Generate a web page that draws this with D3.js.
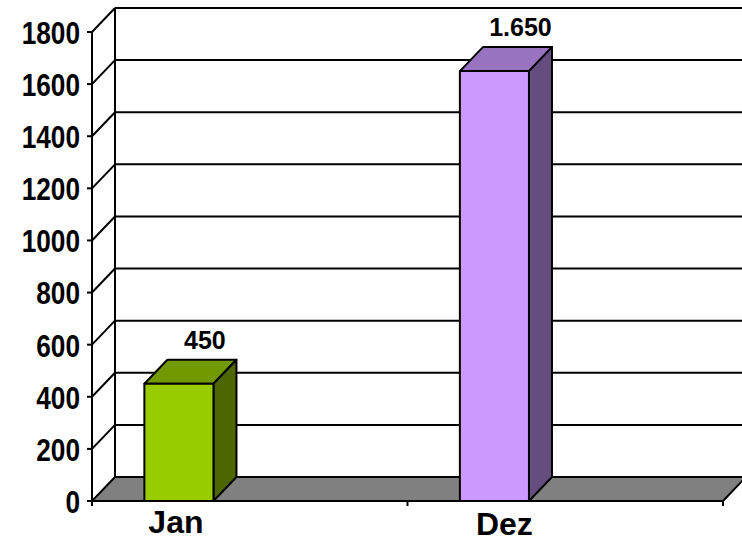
<!DOCTYPE html>
<html>
<head>
<meta charset="utf-8">
<script src="https://cdn.jsdelivr.net/npm/d3@7"></script>
<style>
  body { margin: 0; background: #fff; }
  svg { display: block; }
  text { font-family: "Liberation Sans", Arial, sans-serif; font-weight: bold; fill: #000; }
</style>
</head>
<body>
<div id="chart"></div>
<script>
// data
const categories = ['Jan', 'Dez'];
const values = [450, 1650];
const yTicks = [0, 200, 400, 600, 800, 1000, 1200, 1400, 1600, 1800];
const frontColors = ['#99cc00', '#cc99ff'];

const width = 742;
const height = 542;
const depth = { dx: 23, dy: 24 };

const chart = d3.select('#chart').append('svg')
  .attr('width', width)
  .attr('height', height);

const x = d3.scaleBand().domain(categories).range([92, 723]).padding(0);
const y = d3.scaleLinear().domain([0, 1800]).range([501, 32]);
const bw = x.bandwidth();
const barOffset = bw * 0.166;
const barWidth = bw * 0.219;

const de = d3.formatLocale({ decimal: ',', thousands: '.', grouping: [3], currency: ['', '€'] });
const fmt = de.format(',d');

// #region back wall grid
const grid = chart.append('g').attr('stroke', '#000').attr('stroke-width', 2).attr('fill', 'none');
const x0 = x.range()[0];
const x1 = x.range()[1];

grid.selectAll('line.h')
  .data(yTicks.filter(d => d > 0))
  .enter()
  .append('line')
  .attr('x1', x0 + depth.dx)
  .attr('x2', x1 + depth.dx + 5)
  .attr('y1', d => y(d) - depth.dy)
  .attr('y2', d => y(d) - depth.dy);

grid.selectAll('line.d')
  .data(yTicks.filter(d => d > 0))
  .enter()
  .append('line')
  .attr('x1', x0)
  .attr('x2', x0 + depth.dx)
  .attr('y1', d => y(d))
  .attr('y2', d => y(d) - depth.dy);

// back wall left edge
grid.append('line')
  .attr('x1', x0 + depth.dx).attr('x2', x0 + depth.dx)
  .attr('y1', y(1800) - depth.dy).attr('y2', y(0) - depth.dy);
// #endregion

// #region floor
const floorPts = [
  [x0, y(0)], [x1, y(0)],
  [x1 + depth.dx, y(0) - depth.dy], [x0 + depth.dx, y(0) - depth.dy],
];
chart.append('polygon')
  .attr('points', floorPts.map(p => p.join(',')).join(' '))
  .attr('fill', '#808080')
  .attr('stroke', '#000')
  .attr('stroke-width', 2)
  .attr('stroke-linejoin', 'round');
// #endregion

// #region front axis
const axis = chart.append('g').attr('stroke', '#000').attr('stroke-width', 2);
axis.append('line')
  .attr('x1', x0).attr('x2', x0)
  .attr('y1', y(1800)).attr('y2', y(0) + 5);
axis.selectAll('line.t')
  .data(yTicks)
  .enter()
  .append('line')
  .attr('x1', x0 - 5).attr('x2', x0)
  .attr('y1', d => y(d)).attr('y2', d => y(d));
axis.selectAll('line.c')
  .data([...categories.map(c => x(c)), x1])
  .enter()
  .append('line')
  .attr('x1', d => d).attr('x2', d => d)
  .attr('y1', y(0)).attr('y2', y(0) + 5);

chart.append('g')
  .selectAll('text')
  .data(yTicks)
  .enter()
  .append('text')
  .text(d => d)
  .attr('text-anchor', 'end')
  .attr('dominant-baseline', 'central')
  .attr('transform', d => `translate(80, ${y(d) + 1}) scale(0.82, 1)`)
  .style('font-size', '32px');
// #endregion

// #region bars
const shade = (c, k) => {
  const col = d3.rgb(c);
  return d3.rgb(col.r * k, col.g * k, col.b * k);
};

const bars = chart.append('g')
  .attr('stroke', '#000')
  .attr('stroke-width', 2)
  .attr('stroke-linejoin', 'round');

categories.forEach((c, i) => {
  const bx = x(c) + barOffset;
  const bx2 = bx + barWidth;
  const top = y(values[i]);
  const base = y(0);
  const g = bars.append('g');
  // top face
  g.append('polygon')
    .attr('points', [[bx, top], [bx + depth.dx, top - depth.dy], [bx2 + depth.dx, top - depth.dy], [bx2, top]].map(p => p.join(',')).join(' '))
    .attr('fill', shade(frontColors[i], 0.75));
  // side face
  g.append('polygon')
    .attr('points', [[bx2, top], [bx2 + depth.dx, top - depth.dy], [bx2 + depth.dx, base - depth.dy], [bx2, base]].map(p => p.join(',')).join(' '))
    .attr('fill', shade(frontColors[i], 0.5));
  // front face
  g.append('rect')
    .attr('x', bx).attr('y', top)
    .attr('width', barWidth).attr('height', base - top)
    .attr('fill', frontColors[i]);
});

// value labels
chart.append('g')
  .selectAll('text')
  .data(values)
  .enter()
  .append('text')
  .text(d => fmt(d))
  .attr('text-anchor', 'middle')
  .attr('x', (d, i) => x(categories[i]) + barOffset + barWidth / 2 + depth.dx + 3)
  .attr('y', d => y(d) - depth.dy - 11)
  .style('font-size', '25px');

// category labels (staggered like the original)
chart.append('g')
  .selectAll('text')
  .data(categories)
  .enter()
  .append('text')
  .text(d => d)
  .attr('text-anchor', 'middle')
  .attr('x', (d, i) => x(d) + barOffset + barWidth / 2 - 3 + i * 13)
  .attr('y', (d, i) => 533 + i * 2)
  .style('font-size', '32px');
// #endregion
</script>
</body>
</html>
